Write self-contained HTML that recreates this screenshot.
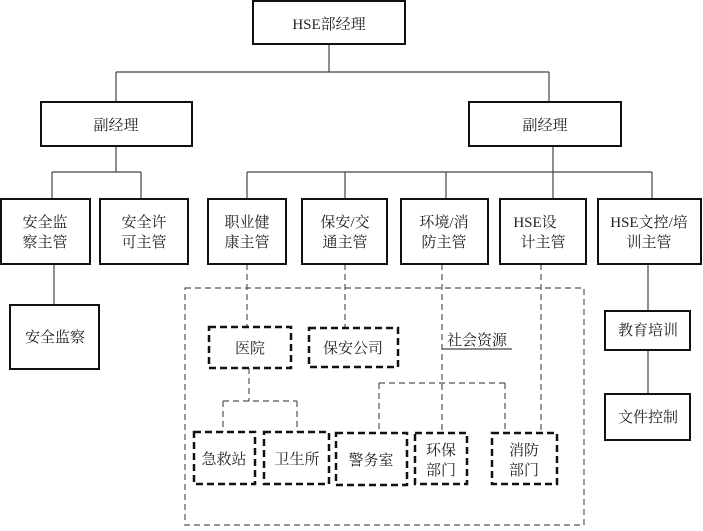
<!DOCTYPE html>
<html><head><meta charset="utf-8"><style>
html,body{margin:0;padding:0;background:#fff;}
svg text{font-family:"Liberation Serif","Noto Serif CJK SC","Noto Sans CJK SC",serif;font-size:15px;fill:#222;text-anchor:middle;}
</style></head><body>
<svg width="703" height="526" viewBox="0 0 703 526" xmlns="http://www.w3.org/2000/svg">
<g stroke="#444" stroke-width="1.2" fill="none">
<line x1="329" y1="44" x2="329" y2="72"/>
<line x1="116" y1="72" x2="549" y2="72"/>
<line x1="116" y1="72" x2="116" y2="102"/>
<line x1="549" y1="72" x2="549" y2="102"/>
<line x1="116" y1="146" x2="116" y2="172"/>
<line x1="52" y1="172" x2="141" y2="172"/>
<line x1="52" y1="172" x2="52" y2="199"/>
<line x1="141" y1="172" x2="141" y2="199"/>
<line x1="553" y1="146" x2="553" y2="199"/>
<line x1="247" y1="172" x2="652" y2="172"/>
<line x1="247" y1="172" x2="247" y2="199"/>
<line x1="345" y1="172" x2="345" y2="199"/>
<line x1="446" y1="172" x2="446" y2="199"/>
<line x1="652" y1="172" x2="652" y2="199"/>
<line x1="54" y1="264" x2="54" y2="305"/>
<line x1="648" y1="264" x2="648" y2="311"/>
<line x1="648" y1="350" x2="648" y2="394"/>
<line x1="442" y1="349" x2="512" y2="349"/>
</g>
<g stroke="#555" stroke-width="1.2" fill="none" stroke-dasharray="6,4">
<rect x="185" y="288" width="399" height="237"/>
<line x1="247" y1="264" x2="247" y2="327"/>
<line x1="345" y1="264" x2="345" y2="328"/>
<line x1="442" y1="264" x2="442" y2="433"/>
<line x1="541" y1="264" x2="541" y2="433"/>
<line x1="249" y1="368" x2="249" y2="401"/>
<line x1="223" y1="401" x2="297" y2="401"/>
<line x1="223" y1="401" x2="223" y2="432"/>
<line x1="297" y1="401" x2="297" y2="432"/>
<line x1="379" y1="383" x2="505" y2="383"/>
<line x1="379" y1="383" x2="379" y2="433"/>
<line x1="505" y1="383" x2="505" y2="433"/>
</g>
<g stroke="#111" stroke-width="2" fill="#fff">
<rect x="253" y="1" width="152" height="43"/>
<rect x="41" y="102" width="151" height="44"/>
<rect x="469" y="102" width="152" height="44"/>
<rect x="1" y="199" width="89" height="65"/>
<rect x="100" y="199" width="88" height="65"/>
<rect x="208" y="199" width="78" height="65"/>
<rect x="302" y="199" width="85" height="65"/>
<rect x="401" y="199" width="87" height="65"/>
<rect x="500" y="199" width="86" height="65"/>
<rect x="598" y="199" width="103" height="65"/>
<rect x="10" y="305" width="89" height="64"/>
<rect x="605" y="311" width="85" height="39"/>
<rect x="605" y="394" width="85" height="46"/>
</g>
<g stroke="#111" stroke-width="2.5" fill="#fff" stroke-dasharray="7,4">
<rect x="209" y="327" width="82" height="41"/>
<rect x="309" y="328" width="89" height="39"/>
<rect x="194" y="432" width="61" height="52"/>
<rect x="264" y="432" width="65" height="52"/>
<rect x="336" y="433" width="71" height="52"/>
<rect x="415" y="433" width="52" height="51"/>
<rect x="492" y="433" width="65" height="51"/>
</g>
<text x="329" y="29">HSE部经理</text>
<text x="116" y="130">副经理</text>
<text x="545" y="130">副经理</text>
<text x="45" y="227">安全监</text><text x="45" y="247">察主管</text>
<text x="144" y="227">安全许</text><text x="144" y="247">可主管</text>
<text x="247" y="227">职业健</text><text x="247" y="247">康主管</text>
<text x="345" y="227">保安/交</text><text x="345" y="247">通主管</text>
<text x="444" y="227">环境/消</text><text x="444" y="247">防主管</text>
<text x="535" y="227">HSE设</text><text x="543" y="247">计主管</text>
<text x="649" y="227">HSE文控/培</text><text x="649" y="247">训主管</text>
<text x="55" y="342">安全监察</text>
<text x="648" y="335">教育培训</text>
<text x="648" y="422">文件控制</text>
<text x="250" y="353">医院</text>
<text x="353" y="353">保安公司</text>
<text x="477" y="345">社会资源</text>
<text x="224" y="464">急救站</text>
<text x="297" y="464">卫生所</text>
<text x="371" y="465">警务室</text>
<text x="441" y="455">环保</text><text x="441" y="475">部门</text>
<text x="524" y="455">消防</text><text x="524" y="475">部门</text>
</svg>
</body></html>
